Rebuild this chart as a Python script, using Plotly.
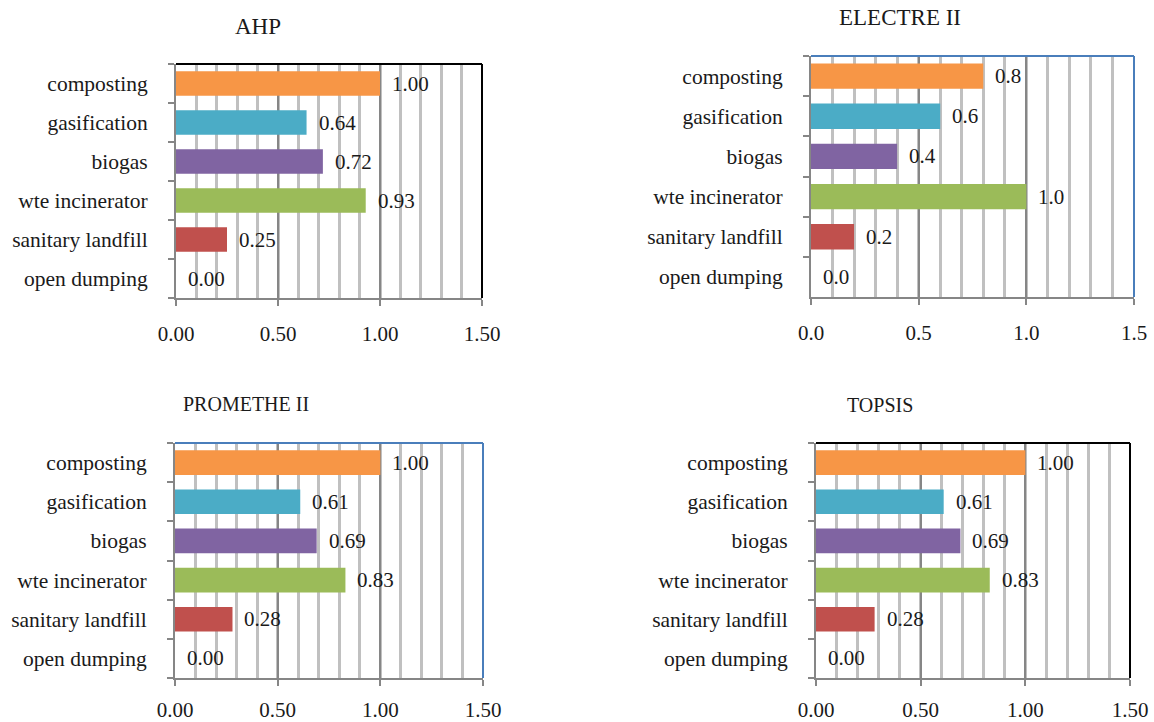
import plotly.graph_objects as go

# Alternatives, listed bottom to top on each chart
categories = ["open dumping", "sanitary landfill", "wte incinerator",
              "biogas", "gasification", "composting"]
bar_colors = ["#4F81BD", "#C0504D", "#9BBB59", "#8064A2", "#4BACC6", "#F79646"]

# Normalised scores per method
ahp = [0.00, 0.25, 0.93, 0.72, 0.64, 1.00]
electre = [0.0, 0.2, 1.0, 0.4, 0.6, 0.8]
promethee = [0.00, 0.28, 0.83, 0.69, 0.61, 1.00]
topsis = [0.00, 0.28, 0.83, 0.69, 0.61, 1.00]

x_ticks = [0.0, 0.5, 1.0, 1.5]

W, H = 1154, 722
FONT = "Times New Roman, Liberation Serif, DejaVu Serif, serif"
TEXT = "#1a1a1a"
AXIS_GRAY = "#868686"
MINOR_GRAY = "#C0C0C0"

# name, scores, decimals, plot box in pixels (left, right, top, bottom), border colour,
# title centre, title size, x tick label standoff
panels = [
    ("AHP", ahp, 2, (176, 482, 64, 298), "#000000", (258, 27), 23, 10),
    ("ELECTRE II", electre, 1, (811, 1134, 56, 297), "#4A7EBB", (900, 18), 23, 10),
    ("PROMETHE II", promethee, 2, (175, 483, 443, 678), "#4A7EBB", (246, 404), 20, 6),
    ("TOPSIS", topsis, 2, (816, 1130, 443, 678), "#000000", (880, 405), 20, 6),
]

fig = go.Figure()
annotations = []
shapes = []
layout_axes = {}

for i, (name, scores, dec, (l, r, t, b), border, (tx, ty), tsize, xstand) in enumerate(panels, start=1):
    xa = "x" if i == 1 else f"x{i}"
    ya = "y" if i == 1 else f"y{i}"
    fig.add_trace(go.Bar(
        x=scores, y=categories, orientation="h",
        marker=dict(color=bar_colors, line=dict(width=0)),
        xaxis=xa, yaxis=ya, showlegend=False, hoverinfo="x+y",
    ))
    fmt = f"{{:.{dec}f}}"
    tick_text = [fmt.format(v) for v in x_ticks]
    layout_axes["xaxis" if i == 1 else f"xaxis{i}"] = dict(
        domain=[l / W, r / W], anchor=ya, range=[0, 1.5], automargin=False,
        tickvals=x_ticks, ticktext=tick_text,
        showgrid=True, gridcolor=AXIS_GRAY, gridwidth=2,
        minor=dict(dtick=0.1, tick0=0, showgrid=True, gridcolor=MINOR_GRAY,
                   gridwidth=2.5, ticks=""),
        showline=True, linecolor=AXIS_GRAY, linewidth=2,
        ticks="outside", ticklen=6, tickwidth=2, tickcolor=AXIS_GRAY,
        ticklabelstandoff=xstand, zeroline=False,
        tickfont=dict(family=FONT, size=21, color=TEXT),
        fixedrange=True,
    )
    layout_axes["yaxis" if i == 1 else f"yaxis{i}"] = dict(
        domain=[1 - b / H, 1 - t / H], anchor=xa, automargin=False,
        categoryorder="array", categoryarray=categories,
        tickson="boundaries", ticks="outside", ticklen=6, tickwidth=2,
        tickcolor=AXIS_GRAY, showgrid=False,
        showline=True, linecolor=AXIS_GRAY, linewidth=2,
        ticklabelstandoff=22, zeroline=False,
        tickfont=dict(family=FONT, size=21.5, color=TEXT),
        fixedrange=True,
    )
    # top and right frame of the plot area
    shapes.append(dict(type="line", xref=f"{xa} domain", yref=f"{ya} domain",
                       x0=0, x1=1, y0=1, y1=1, line=dict(color=border, width=2)))
    shapes.append(dict(type="line", xref=f"{xa} domain", yref=f"{ya} domain",
                       x0=1, x1=1, y0=0, y1=1, line=dict(color=border, width=2)))
    # value labels beside each bar
    for cat, v in zip(categories, scores):
        annotations.append(dict(
            x=v, y=cat, xref=xa, yref=ya, text=fmt.format(v),
            xanchor="left", yanchor="middle", xshift=10, showarrow=False,
            font=dict(family=FONT, size=21, color=TEXT),
        ))
    # chart title
    annotations.append(dict(
        x=tx / W, y=1 - ty / H, xref="paper", yref="paper", text=name,
        xanchor="center", yanchor="middle", showarrow=False,
        font=dict(family=FONT, size=tsize, color=TEXT),
    ))

fig.update_layout(
    width=W, height=H,
    margin=dict(l=0, r=0, t=0, b=0, autoexpand=False),
    paper_bgcolor="white", plot_bgcolor="white",
    bargap=0.37,
    annotations=annotations, shapes=shapes,
    **layout_axes,
)

fig.write_html("out.html", config={"displayModeBar": False})
